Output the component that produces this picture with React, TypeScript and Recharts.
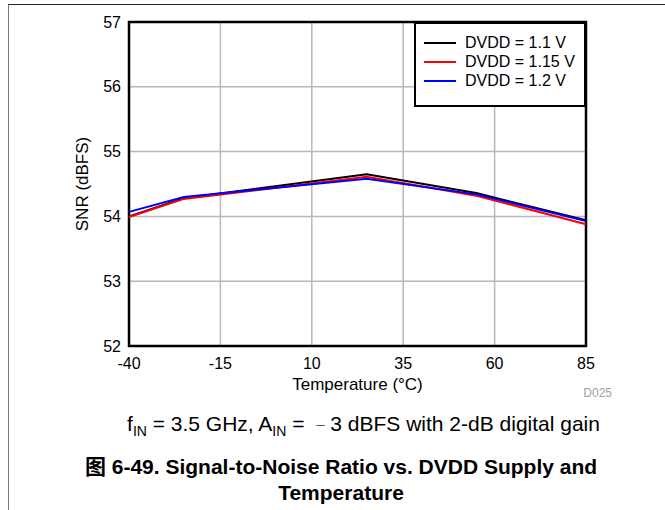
import React from "react";
import {
  LineChart,
  Line,
  XAxis,
  YAxis,
  CartesianGrid,
  ReferenceArea,
  Legend,
  Label,
} from "recharts";

// Temperature sweep (°C) and SNR (dBFS) per DVDD supply
const temps = [-40, -25, 25, 55, 85];
const snr110 = [54.0, 54.28, 54.65, 54.36, 53.94];
const snr115 = [53.99, 54.27, 54.61, 54.32, 53.88];
const snr120 = [54.07, 54.3, 54.58, 54.34, 53.93];

const xTicks = [-40, -15, 10, 35, 60, 85];
const yTicks = [52, 53, 54, 55, 56, 57];

const seriesNames = ["DVDD = 1.1 V", "DVDD = 1.15 V", "DVDD = 1.2 V"];
const seriesColors = ["#000000", "#ff0000", "#0000ff"];

const data = temps.map((t, i) => ({
  t,
  a: snr110[i],
  b: snr115[i],
  c: snr120[i],
}));

const FONT = "'Liberation Sans', Arial, Helvetica, sans-serif";

// Boxed legend, like the datasheet plots
function BoxLegend({ payload }: { payload?: Array<{ value: string; color: string }> }) {
  if (!payload) return null;
  return (
    <div
      style={{
        width: 168,
        height: 72,
        border: "2px solid #000",
        background: "#fff",
        fontFamily: FONT,
        fontSize: 16,
        paddingTop: 9,
        boxSizing: "content-box",
      }}
    >
      {payload.map((p) => (
        <div key={p.value} style={{ display: "flex", alignItems: "center", height: 19 }}>
          <div style={{ width: 32, height: 2, background: p.color, marginLeft: 8, marginRight: 9 }} />
          <span style={{ lineHeight: "19px" }}>{p.value}</span>
        </div>
      ))}
    </div>
  );
}

const sub = { fontSize: 14, position: "relative" as const, top: 5 };

export default function App() {
  return (
    <div
      style={{
        position: "absolute",
        left: 0,
        top: 0,
        width: 665,
        height: 510,
        background: "#fff",
        fontFamily: FONT,
        overflow: "hidden",
      }}
    >
      {/* page frame */}
      <div
        style={{
          position: "absolute",
          left: 8,
          top: 4,
          width: 680,
          height: 520,
          borderTop: "1px solid #222",
          borderLeft: "1px solid #777",
        }}
      />

      <div style={{ position: "absolute", left: 0, top: 0 }}>
        <LineChart
          width={665}
          height={400}
          data={data}
          margin={{ top: 22, right: 79, bottom: 14, left: 69 }}
        >
          <CartesianGrid stroke="#b8b8b8" strokeWidth={1.5} />
          <XAxis
            type="number"
            dataKey="t"
            domain={[-40, 85]}
            ticks={xTicks}
            axisLine={false}
            tickLine={false}
            tickSize={0}
            tickMargin={12}
            height={40}
            tick={{ fontSize: 16, fill: "#000", fontFamily: FONT }}
          >
            <Label
              value="Temperature (°C)"
              position="center"
              dy={18}
              style={{ fontSize: 17, fill: "#000", fontFamily: FONT }}
            />
          </XAxis>
          <YAxis
            type="number"
            domain={[52, 57]}
            ticks={yTicks}
            axisLine={false}
            tickLine={false}
            tickSize={0}
            tickMargin={8}
            width={60}
            tick={{ fontSize: 16, fill: "#000", fontFamily: FONT }}
          >
            <Label
              value="SNR (dBFS)"
              position="center"
              angle={-90}
              dx={-17}
              style={{ fontSize: 17, fill: "#000", fontFamily: FONT, textAnchor: "middle" }}
            />
          </YAxis>
          <Line
            dataKey="a"
            name={seriesNames[0]}
            stroke={seriesColors[0]}
            strokeWidth={2}
            dot={false}
            isAnimationActive={false}
          />
          <Line
            dataKey="b"
            name={seriesNames[1]}
            stroke={seriesColors[1]}
            strokeWidth={2}
            dot={false}
            isAnimationActive={false}
          />
          <Line
            dataKey="c"
            name={seriesNames[2]}
            stroke={seriesColors[2]}
            strokeWidth={2}
            dot={false}
            isAnimationActive={false}
          />
          <ReferenceArea
            x1={-40}
            x2={85}
            y1={52}
            y2={57}
            fill="none"
            stroke="#000"
            strokeWidth={2.5}
            ifOverflow="visible"
          />
          <Legend
            layout="vertical"
            align="center"
            verticalAlign="middle"
            content={<BoxLegend />}
            wrapperStyle={{ left: 414, top: 22, width: 172 }}
          />
        </LineChart>
      </div>

      <div
        style={{
          position: "absolute",
          left: 560,
          top: 386,
          width: 52,
          textAlign: "right",
          fontSize: 12,
          color: "#a0a0a0",
        }}
      >
        D025
      </div>

      <div
        style={{
          position: "absolute",
          left: 60,
          top: 411,
          width: 607,
          textAlign: "center",
          fontSize: 21,
          lineHeight: "26px",
          color: "#000",
          whiteSpace: "nowrap",
        }}
      >
        f<span style={sub}>IN</span> = 3.5 GHz, A<span style={sub}>IN</span> = &nbsp;
        <span style={{ color: "#555", fontSize: 15, position: "relative", top: -2 }}>–</span> 3 dBFS with
        2-dB digital gain
      </div>

      <div
        style={{
          position: "absolute",
          left: 20,
          top: 452,
          width: 642,
          textAlign: "center",
          fontSize: 21,
          fontWeight: "bold",
          lineHeight: "26px",
          color: "#000",
          whiteSpace: "nowrap",
        }}
      >
        <span style={{ fontFamily: "'Noto Sans CJK SC', sans-serif" }}>图</span> 6-49. Signal-to-Noise Ratio vs. DVDD Supply and
        <br />
        Temperature
      </div>
    </div>
  );
}
